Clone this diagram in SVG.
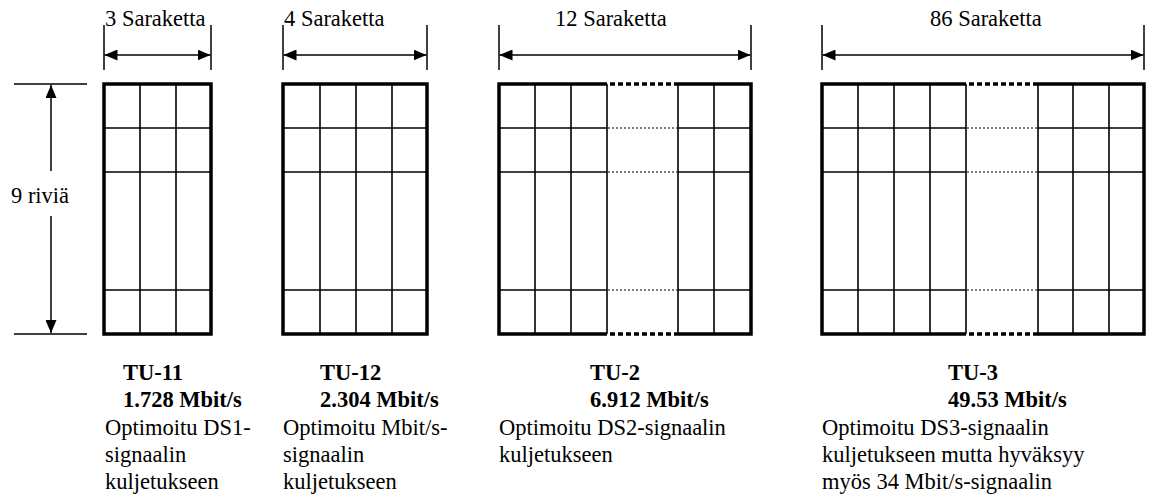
<svg xmlns="http://www.w3.org/2000/svg" width="1151" height="497" viewBox="0 0 1151 497">
  <style>
    text { font-family: "Liberation Serif", "Times New Roman", serif; font-size: 22.5px; fill: #000; }
    .b { font-weight: bold; }
    .frame { fill: none; stroke: #000; stroke-width: 3.5; }
    .cell { stroke: #000; stroke-width: 1.6; fill: none; }
    .gap { stroke: #000; stroke-width: 1; stroke-dasharray: 2 2; fill: none; }
    .gapedge { stroke: #000; stroke-width: 3.5; stroke-dasharray: 5 3; fill: none; }
    .dim { stroke: #000; stroke-width: 1.5; fill: none; }
    .arr { stroke: #000; stroke-width: 1.5; fill: none; marker-start: url(#ah); marker-end: url(#ah); }
  </style>
  <defs>
    <marker id="ah" markerUnits="userSpaceOnUse" markerWidth="13" markerHeight="11" refX="13" refY="5.5" orient="auto-start-reverse">
      <path d="M0,0 L13,5.5 L0,11 z" fill="#000"/>
    </marker>
  </defs>
  <rect width="1151" height="497" fill="#fff"/>

  <!-- dimension lines -->
  <g id="connectors">
    <!-- 9 rows -->
    <line class="dim" x1="14" y1="84" x2="87" y2="84"/>
    <line class="dim" x1="14" y1="334" x2="87" y2="334"/>
    <line class="dim" x1="51" y1="85" x2="51" y2="171" marker-start="url(#ah)"/>
    <line class="dim" x1="51" y1="216" x2="51" y2="333" marker-end="url(#ah)"/>
    <!-- 3 columns -->
    <line class="dim" x1="104" y1="25" x2="104" y2="70"/>
    <line class="dim" x1="211" y1="25" x2="211" y2="70"/>
    <line class="arr" x1="104.5" y1="55" x2="210.5" y2="55"/>
    <!-- 4 columns -->
    <line class="dim" x1="283" y1="25" x2="283" y2="70"/>
    <line class="dim" x1="427" y1="25" x2="427" y2="70"/>
    <line class="arr" x1="283.5" y1="55" x2="426.5" y2="55"/>
    <!-- 12 columns -->
    <line class="dim" x1="499" y1="25" x2="499" y2="70"/>
    <line class="dim" x1="751" y1="25" x2="751" y2="70"/>
    <line class="arr" x1="499.5" y1="55" x2="750.5" y2="55"/>
    <!-- 86 columns -->
    <line class="dim" x1="822" y1="25" x2="822" y2="70"/>
    <line class="dim" x1="1144" y1="25" x2="1144" y2="70"/>
    <line class="arr" x1="822.5" y1="55" x2="1143.5" y2="55"/>
  </g>

  <g id="dim-labels">
    <text x="105" y="26">3 Saraketta</text>
    <text x="284" y="26">4 Saraketta</text>
    <text x="555" y="26">12 Saraketta</text>
    <text x="930" y="26">86 Saraketta</text>
    <text x="11" y="203">9 riviä</text>
  </g>

  <!-- TU-11 -->
  <g id="tu11">
    <line class="cell" x1="140" y1="84" x2="140" y2="334"/>
    <line class="cell" x1="176" y1="84" x2="176" y2="334"/>
    <line class="cell" x1="104" y1="128" x2="211" y2="128"/>
    <line class="cell" x1="104" y1="172" x2="211" y2="172"/>
    <line class="cell" x1="104" y1="290" x2="211" y2="290"/>
    <rect class="frame" x="104" y="84" width="107" height="250"/>
    <text class="b" x="123" y="380">TU-11</text>
    <text class="b" x="123" y="407">1.728 Mbit/s</text>
    <text x="105" y="435">Optimoitu DS1-</text>
    <text x="105" y="462">signaalin</text>
    <text x="105" y="489">kuljetukseen</text>
  </g>

  <!-- TU-12 -->
  <g id="tu12">
    <line class="cell" x1="320" y1="84" x2="320" y2="334"/>
    <line class="cell" x1="356" y1="84" x2="356" y2="334"/>
    <line class="cell" x1="392" y1="84" x2="392" y2="334"/>
    <line class="cell" x1="283" y1="128" x2="427" y2="128"/>
    <line class="cell" x1="283" y1="172" x2="427" y2="172"/>
    <line class="cell" x1="283" y1="290" x2="427" y2="290"/>
    <rect class="frame" x="283" y="84" width="144" height="250"/>
    <text class="b" x="320" y="380">TU-12</text>
    <text class="b" x="320" y="407">2.304 Mbit/s</text>
    <text x="283" y="435">Optimoitu Mbit/s-</text>
    <text x="283" y="462">signaalin</text>
    <text x="283" y="489">kuljetukseen</text>
  </g>

  <!-- TU-2 -->
  <g id="tu2">
    <line class="cell" x1="535" y1="84" x2="535" y2="334"/>
    <line class="cell" x1="571" y1="84" x2="571" y2="334"/>
    <line class="cell" x1="607" y1="84" x2="607" y2="334"/>
    <line class="cell" x1="678" y1="84" x2="678" y2="334"/>
    <line class="cell" x1="714" y1="84" x2="714" y2="334"/>
    <line class="cell" x1="499" y1="128" x2="607" y2="128"/>
    <line class="cell" x1="499" y1="172" x2="607" y2="172"/>
    <line class="cell" x1="499" y1="290" x2="607" y2="290"/>
    <line class="cell" x1="678" y1="128" x2="751" y2="128"/>
    <line class="cell" x1="678" y1="172" x2="751" y2="172"/>
    <line class="cell" x1="678" y1="290" x2="751" y2="290"/>
    <line class="gap" x1="608" y1="128" x2="677" y2="128"/>
    <line class="gap" x1="608" y1="172" x2="677" y2="172"/>
    <line class="gap" x1="608" y1="290" x2="677" y2="290"/>
    <path class="frame" d="M607,84 H499 V334 H607 M678,84 H751 V334 H678"/>
    <line class="gapedge" x1="610" y1="84" x2="678" y2="84"/>
    <line class="gapedge" x1="610" y1="334" x2="678" y2="334"/>
    <text class="b" x="590" y="380">TU-2</text>
    <text class="b" x="590" y="407">6.912 Mbit/s</text>
    <text x="499" y="435">Optimoitu DS2-signaalin</text>
    <text x="499" y="462">kuljetukseen</text>
  </g>

  <!-- TU-3 -->
  <g id="tu3">
    <line class="cell" x1="858" y1="84" x2="858" y2="334"/>
    <line class="cell" x1="894" y1="84" x2="894" y2="334"/>
    <line class="cell" x1="930" y1="84" x2="930" y2="334"/>
    <line class="cell" x1="966" y1="84" x2="966" y2="334"/>
    <line class="cell" x1="1038" y1="84" x2="1038" y2="334"/>
    <line class="cell" x1="1073" y1="84" x2="1073" y2="334"/>
    <line class="cell" x1="1109" y1="84" x2="1109" y2="334"/>
    <line class="cell" x1="822" y1="128" x2="966" y2="128"/>
    <line class="cell" x1="822" y1="172" x2="966" y2="172"/>
    <line class="cell" x1="822" y1="290" x2="966" y2="290"/>
    <line class="cell" x1="1038" y1="128" x2="1144" y2="128"/>
    <line class="cell" x1="1038" y1="172" x2="1144" y2="172"/>
    <line class="cell" x1="1038" y1="290" x2="1144" y2="290"/>
    <line class="gap" x1="967" y1="128" x2="1037" y2="128"/>
    <line class="gap" x1="967" y1="172" x2="1037" y2="172"/>
    <line class="gap" x1="967" y1="290" x2="1037" y2="290"/>
    <path class="frame" d="M966,84 H822 V334 H966 M1038,84 H1144 V334 H1038"/>
    <line class="gapedge" x1="969" y1="84" x2="1038" y2="84"/>
    <line class="gapedge" x1="969" y1="334" x2="1038" y2="334"/>
    <text class="b" x="948" y="380">TU-3</text>
    <text class="b" x="948" y="407">49.53 Mbit/s</text>
    <text x="822" y="435">Optimoitu DS3-signaalin</text>
    <text x="822" y="462">kuljetukseen mutta hyväksyy</text>
    <text x="822" y="489">myös 34 Mbit/s-signaalin</text>
  </g>
</svg>
